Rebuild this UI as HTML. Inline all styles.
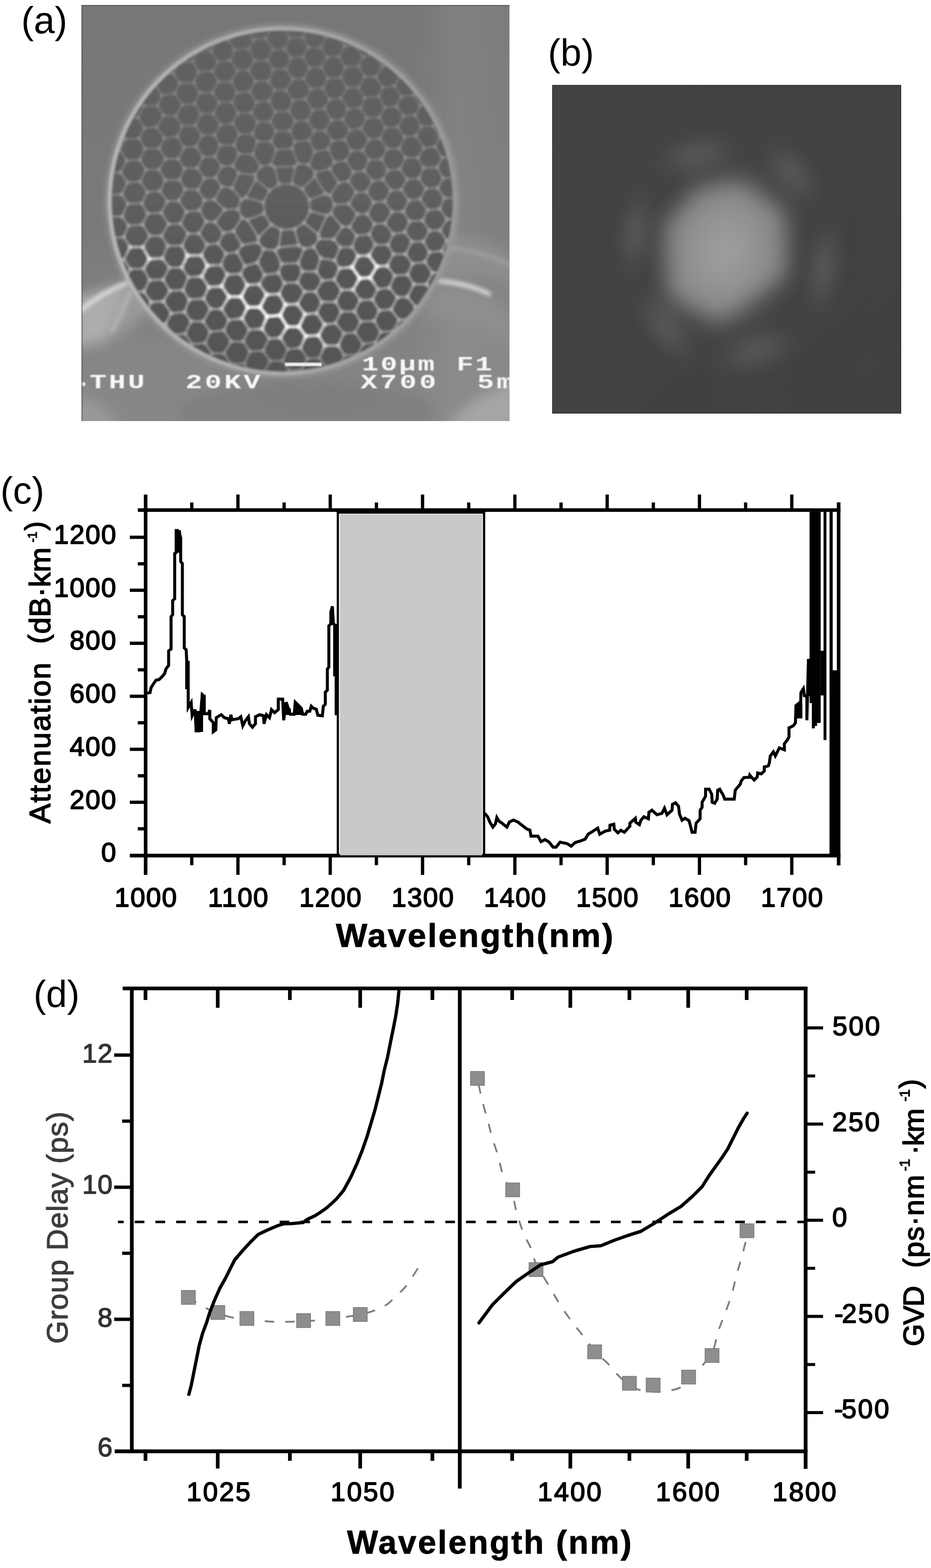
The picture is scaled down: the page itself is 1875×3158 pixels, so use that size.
<!DOCTYPE html>
<html lang="en"><head><meta charset="utf-8"><title>Figure</title>
<style>html,body{margin:0;padding:0;background:#fff}svg{display:block}text{white-space:pre}</style></head><body>
<svg width="1875" height="3158" viewBox="0 0 1875 3158">
<rect width="1875" height="3158" fill="#fff"/>
<g id="panel_a">
<defs>
<clipPath id="aClip"><rect x="164" y="10" width="862.2" height="838"/></clipPath>
<clipPath id="aCirc"><circle cx="568.3" cy="404.8" r="344.6"/></clipPath>
<filter id="aBlur" x="-5%" y="-5%" width="110%" height="110%"><feGaussianBlur stdDeviation="1.9"/></filter>
<filter id="aBlur2" x="-5%" y="-5%" width="110%" height="110%"><feGaussianBlur stdDeviation="1.1"/></filter>
<filter id="aSoft" x="-30%" y="-30%" width="160%" height="160%"><feGaussianBlur stdDeviation="12"/></filter>
<filter id="aSoft2" x="-30%" y="-30%" width="160%" height="160%"><feGaussianBlur stdDeviation="4"/></filter>
<linearGradient id="aBg" x1="0" y1="0" x2="0" y2="1"><stop offset="0" stop-color="#777777"/><stop offset="0.55" stop-color="#7a7a7a"/><stop offset="0.75" stop-color="#828282"/><stop offset="1" stop-color="#868686"/></linearGradient>
<linearGradient id="aBgR" x1="0" y1="0" x2="1" y2="0"><stop offset="0" stop-color="#fff" stop-opacity="0"/><stop offset="0.78" stop-color="#fff" stop-opacity="0"/><stop offset="0.88" stop-color="#fff" stop-opacity="0.07"/><stop offset="1" stop-color="#fff" stop-opacity="0.04"/></linearGradient>
<linearGradient id="aCell" gradientUnits="userSpaceOnUse" x1="0" y1="60" x2="0" y2="750"><stop offset="0" stop-color="#626262"/><stop offset="0.5" stop-color="#5e5e5e"/><stop offset="0.75" stop-color="#565656"/><stop offset="1" stop-color="#545454"/></linearGradient>
<linearGradient id="aWall" gradientUnits="userSpaceOnUse" x1="0" y1="60" x2="0" y2="750"><stop offset="0" stop-color="#717171"/><stop offset="0.3" stop-color="#777777"/><stop offset="0.5" stop-color="#868686"/><stop offset="0.64" stop-color="#969696"/><stop offset="0.8" stop-color="#a6a6a6"/><stop offset="0.92" stop-color="#8e8e8e"/><stop offset="1" stop-color="#787878"/></linearGradient>
<linearGradient id="aDot" gradientUnits="userSpaceOnUse" x1="0" y1="60" x2="0" y2="750"><stop offset="0" stop-color="#7c7c7c"/><stop offset="0.3" stop-color="#848484"/><stop offset="0.5" stop-color="#969696"/><stop offset="0.64" stop-color="#a8a8a8"/><stop offset="0.8" stop-color="#b8b8b8"/><stop offset="0.92" stop-color="#9a9a9a"/><stop offset="1" stop-color="#808080"/></linearGradient>
<radialGradient id="aB1" gradientUnits="userSpaceOnUse" cx="0" cy="0" r="100" gradientTransform="translate(546 630) rotate(26) scale(1.8 0.5)"><stop offset="0" stop-color="#fff" stop-opacity="1.0"/><stop offset="0.45" stop-color="#fff" stop-opacity="0.75"/><stop offset="1" stop-color="#fff" stop-opacity="0"/></radialGradient>
<radialGradient id="aB2" gradientUnits="userSpaceOnUse" cx="0" cy="0" r="62" gradientTransform="translate(732 547) rotate(-25) scale(1.0 0.7)"><stop offset="0" stop-color="#fff" stop-opacity="1.0"/><stop offset="0.45" stop-color="#fff" stop-opacity="0.75"/><stop offset="1" stop-color="#fff" stop-opacity="0"/></radialGradient>
<radialGradient id="aB3" gradientUnits="userSpaceOnUse" cx="0" cy="0" r="45" gradientTransform="translate(393 530) rotate(25) scale(1.3 0.6)"><stop offset="0" stop-color="#fff" stop-opacity="0.75"/><stop offset="0.45" stop-color="#fff" stop-opacity="0.5625"/><stop offset="1" stop-color="#fff" stop-opacity="0"/></radialGradient>
<radialGradient id="aB4" gradientUnits="userSpaceOnUse" cx="0" cy="0" r="40" gradientTransform="translate(292 517) rotate(25) scale(1.3 0.6)"><stop offset="0" stop-color="#fff" stop-opacity="0.6"/><stop offset="0.45" stop-color="#fff" stop-opacity="0.44999999999999996"/><stop offset="1" stop-color="#fff" stop-opacity="0"/></radialGradient>
<linearGradient id="aRim" gradientUnits="userSpaceOnUse" x1="221.7" y1="0" x2="914.9" y2="0"><stop offset="0" stop-color="#b6b6b6"/><stop offset="0.5" stop-color="#aaaaaa"/><stop offset="1" stop-color="#989898"/></linearGradient>
</defs>
<g clip-path="url(#aClip)">
<rect x="164" y="10" width="862.2" height="838" fill="url(#aBg)"/>
<rect x="164" y="10" width="862.2" height="838" fill="url(#aBgR)"/>
<g filter="url(#aSoft)">
<polygon points="268,566 150,600 150,700 215,690" fill="#b8b8b8" fill-opacity="0.8"/>
<polygon points="268,566 330,600 240,680 200,640" fill="#a8a8a8" fill-opacity="0.6"/>
<path d="M150,700 Q330,640 470,760 T760,800 L1040,640 L1040,860 L150,860Z" fill="#8a8a8a" fill-opacity="0.5"/>
<ellipse cx="620" cy="830" rx="260" ry="60" fill="#787878" fill-opacity="0.55"/>
<path d="M1040,770 Q960,790 900,860 L1040,860Z" fill="#a6a6a6"/>
<path d="M150,800 Q200,800 240,860 L150,860Z" fill="#9a9a9a"/>
<path d="M905,470 Q980,480 1040,520 L1040,575 Q960,540 888,560Z" fill="#8f8f8f" fill-opacity="0.9"/>
<path d="M880,575 Q960,575 1040,640 L1040,700 Q960,640 850,640Z" fill="#909090" fill-opacity="0.8"/>
</g>
<g filter="url(#aSoft2)" fill="none" stroke-linecap="round">
<path d="M268,566 Q210,585 158,628" stroke="#e4e4e4" stroke-width="9" stroke-opacity="0.9"/>
<path d="M272,570 Q250,620 226,668" stroke="#c8c8c8" stroke-width="7" stroke-opacity="0.6"/>
<path d="M884,566 Q940,570 985,592" stroke="#ececec" stroke-width="8" stroke-opacity="0.9"/>
<path d="M906,500 Q970,505 1030,535" stroke="#b0b0b0" stroke-width="5" stroke-opacity="0.7"/>
<circle cx="267" cy="566" r="9" fill="#f0f0f0" stroke="none"/>
</g>
<g filter="url(#aBlur)">
<circle cx="568.3" cy="404.8" r="350.6" fill="none" stroke="#a0a0a0" stroke-opacity="0.55" stroke-width="13" filter="url(#aSoft2)"/>
<circle cx="568.3" cy="404.8" r="346.6" fill="url(#aCell)"/>
<g clip-path="url(#aCirc)" fill="none" stroke-linecap="round">
<defs><path id="aW" d="M926.9,524.7L904.8,527.4M904.8,527.4L893.5,547.5M907.7,568.8L893.5,547.5M864.9,508L855.6,527.6M864.9,508L889.6,505.6M855.6,527.6L871,549.5M904.8,527.4L889.6,505.6M871,549.5L893.5,547.5M864.9,508L852.5,486.6M855.6,527.6L830.8,531M816.9,511.9L830.8,531M816.9,511.9L829.3,486.7M852.5,486.6L829.3,486.7M938.5,503.9L924.2,483.6M889.6,505.6L900,484.7M900,484.7L924.2,483.6M486.4,402L479.1,421.2M486.4,402L467.2,378.3M431.7,401.6L446.5,375.9M431.7,401.6L452.1,422.2M479.1,421.2L452.1,422.2M467.2,378.3L446.5,375.9M495.1,397.7L530.4,407.4M495.1,397.7L514.8,361.3M530.4,407.4L542.6,383.5M542.6,383.5L514.8,361.3M481,309.6L469.1,333.8M481,309.6L509.1,310.6M509.1,310.6L525.1,335.3M480.8,348.7L469.1,333.8M480.8,348.7L513.6,352.6M525.1,335.3L513.6,352.6M486.4,402L495.1,397.7M467.2,378.3L480.8,348.7M514.8,361.3L513.6,352.6M588,298.7L556.2,301.7M588,298.7L600.6,329.6M593.7,335.2L600.6,329.6M593.7,335.2L552.7,336.5M556.2,301.7L546,331.9M552.7,336.5L546,331.9M622.3,282.3L593.8,285.8M622.3,282.3L633.8,305.3M593.8,285.8L588,298.7M633.8,305.3L621.4,331.5M621.4,331.5L600.6,329.6M894,592.9L872.7,594.2M894,592.9L907.7,568.8M871,549.5L859.2,572.7M872.7,594.2L859.2,572.7M894,592.9L911.7,613.2M872.7,594.2L861,615.9M875.4,638.2L861,615.9M795.4,711.4L805.6,686.4M805.6,686.4L830.1,684.5M861,615.9L837.2,618.4M837.2,618.4L826.1,641.9M864.4,661L841.2,662.5M826.1,641.9L841.2,662.5M830.1,684.5L841.2,662.5M720.1,760L732.4,735.2M732.4,735.2L758.6,735M795.4,711.4L770.6,712.3M770.6,712.3L758.6,735M781.6,493.1L755.6,492.6M781.6,493.1L792.2,511.7M759,536.7L743,514.7M759,536.7L779.9,535.3M779.9,535.3L792.2,511.7M755.6,492.6L743,514.7M781.6,493.1L792,471.1M816.9,511.9L792.2,511.7M829.3,486.7L815.3,467.5M792,471.1L815.3,467.5M387.5,738L373.4,718.6M373.4,718.6L386.6,692.9M412.9,737.2L426.7,711.7M426.7,711.7L413.3,691M387.5,738L412.9,737.2M413.3,691L386.6,692.9M469.6,779.2L453.1,755.9M427.2,758L453.1,755.9M412.9,737.2L427.2,758M360.1,82.5L388.1,82.6M388.1,82.6L398,63.4M275.8,150.7L288.4,170.2M276.8,193.4L288.4,170.2M249.3,194.2L276.8,193.4M312.1,127.1L325.2,148.4M360.9,124L349.1,147.9M360.9,124L347.9,104M349.1,147.9L325.2,148.4M347.9,104L323.8,103.9M312.4,169.8L288.4,170.2M312.4,169.8L325.2,148.4M293.3,632.5L264.8,635.3M264.7,588.1L250.5,612.8M293.3,632.5L304.4,608.3M264.7,588.1L289.8,587.2M304.4,608.3L289.8,587.2M264.7,588.1L250.6,566.6M250.6,566.6L262.6,541.9M289.2,541.2L262.6,541.9M289.2,541.2L301.4,564.2M301.4,564.2L289.8,587.2M304.4,608.3L329.1,606.9M307,652.5L333.6,652M333.6,652L344.9,631.1M293.3,632.5L307,652.5M344.9,631.1L329.1,606.9M328.6,563.2L342.2,585.5M328.6,563.2L301.4,564.2M329.1,606.9L342.2,585.5M532.1,428.6L531.6,430.1M531.6,430.1L546.2,452.6M547.7,452.8L546.2,452.6M411.7,403.4L401.6,423.6M411.7,403.4L431.7,401.6M401.6,423.6L415.3,446.3M452.1,422.2L433.2,447M415.3,446.3L433.2,447M398.7,382L411.7,403.4M398.7,382L372.4,381.2M372.4,381.2L360,404.2M401.6,423.6L375.2,426.4M375.2,426.4L360,404.2M322.1,384.8L332.6,363M361.7,362.1L332.6,363M372.4,381.2L361.7,362.1M322.1,384.8L336.9,405.7M336.9,405.7L360,404.2M924.2,483.6L933.8,460.9M957.5,458.4L933.8,460.9M701.7,365L711.5,346.6M711.5,346.6L733.6,343.9M717.1,387.6L738.3,386.6M717.1,387.6L701.7,365M738.3,386.6L749.8,364.2M733.6,343.9L749.8,364.2M531.6,430.1L498.6,443M546.2,452.6L520.4,478.1M498.6,443L520.4,478.1M532.1,428.6L531,408.8M531,408.8L530.4,407.4M479.1,421.2L487.4,438.6M498.6,443L487.4,438.6M449.8,469.2L433.2,447M449.8,469.2L470.3,465.3M487.4,438.6L470.3,465.3M583.7,263.2L593.8,285.8M583.7,263.2L555.9,264.1M556.2,301.7L546.4,285.1M555.9,264.1L546.4,285.1M525.1,335.3L546,331.9M509.1,310.6L518.5,285.2M546.4,285.1L518.5,285.2M542.6,383.5L544.1,383.1M686.4,198L699.2,176.4M686.4,198L700.7,219.3M700.7,219.3L726.1,217.5M721.5,176.2L734.8,197.2M721.5,176.2L699.2,176.4M734.8,197.2L726.1,217.5M691.4,54.1L676.9,31.7M691.4,54.1L718,50.4M683.2,73.8L656.7,73.9M683.2,73.8L693.8,92.9M693.8,92.9L682,114.1M646.3,95.4L656.7,73.9M646.3,95.4L659.1,115.7M659.1,115.7L682,114.1M644.3,54.5L655.9,33.7M644.3,54.5L656.7,73.9M691.4,54.1L683.2,73.8M686.7,156L695.6,135.3M695.6,135.3L722.2,133.2M699.2,176.4L686.7,156M721.5,176.2L734.9,154.6M722.2,133.2L734.9,154.6M717.4,92.7L731.5,114M717.4,92.7L729.8,72.4M729.8,72.4L753.5,72.4M754.3,111.3L731.5,114M754.3,111.3L764.5,91.9M764.5,91.9L753.5,72.4M722.2,133.2L731.5,114M693.8,92.9L717.4,92.7M695.6,135.3L682,114.1M718,50.4L729.8,72.4M791.5,91.1L764.5,91.9M424.4,60.5L398,63.4M432.6,40.1L424.4,60.5M632.8,263.1L619,243M622.3,282.3L632.8,263.1M583.7,263.2L594.1,243.9M594.1,243.9L619,243M620.3,56.4L610.6,75.3M644.3,54.5L620.3,56.4M646.3,95.4L620.5,95.1M620.5,95.1L610.6,75.3M820.6,597.7L833.5,572.5M820.6,597.7L800.4,599.1M800.4,599.1L784.3,579.5M784.3,579.5L794.6,554.9M794.6,554.9L821.1,553M821.1,553L833.5,572.5M837.2,618.4L820.6,597.7M859.2,572.7L833.5,572.5M779.9,535.3L794.6,554.9M745.5,559.3L761,582.2M761,582.2L784.3,579.5M759,536.7L745.5,559.3M830.8,531L821.1,553M805.6,686.4L792,667.3M826.1,641.9L803.6,644.6M792,667.3L803.6,644.6M770.6,712.3L755.5,689.8M755.5,689.8L766.6,668.6M792,667.3L766.6,668.6M800.4,599.1L787.8,623.1M803.6,644.6L787.8,623.1M732.4,735.2L720,714.2M755.5,689.8L731.1,692.7M731.1,692.7L720,714.2M725.4,604.4L750.2,603.3M725.4,604.4L713.9,627.3M750.2,603.3L763.7,625.3M726.4,647.7L713.9,627.3M726.4,647.7L753.5,646.3M753.5,646.3L763.7,625.3M787.8,623.1L763.7,625.3M761,582.2L750.2,603.3M687.2,627.4L713.9,627.3M675.6,650.8L687.2,627.4M714.9,669.4L692.7,671.4M675.6,650.8L692.7,671.4M714.9,669.4L726.4,647.7M731.1,692.7L714.9,669.4M766.6,668.6L753.5,646.3M702.6,410.5L719.6,431.2M702.6,410.5L673.7,411.9M673.7,411.9L666.5,430M666.5,430L689.4,456.5M689.4,456.5L704.4,456.8M704.4,456.8L719.6,431.2M789.3,426.4L775.5,450M789.3,426.4L774.8,406M774.8,406L752.2,407.3M752.2,407.3L739.8,431M739.8,431L753.6,451.3M775.5,450L753.6,451.3M824.7,445.6L815.3,467.5M824.7,445.6L812.2,426.1M812.2,426.1L789.3,426.4M792,471.1L775.5,450M823.4,403.7L808.3,382.2M786.9,383.4L808.3,382.2M786.9,383.4L774.8,406M812.2,426.1L823.4,403.7M786.9,383.4L771.3,361.3M771.3,361.3L749.8,364.2M738.3,386.6L752.2,407.3M719.6,431.2L739.8,431M717.1,387.6L702.6,410.5M718,474.5L743.9,471.7M718,474.5L704.4,456.8M743.9,471.7L753.6,451.3M755.6,492.6L743.9,471.7M915.3,357L927.7,335.1M915.3,357L930.1,379.2M948.4,335.1L927.7,335.1M930.1,379.2L952.8,376.9M892.4,358.9L880.3,337M892.4,358.9L915.3,357M914.2,315.7L890.6,317.5M880.3,337L890.6,317.5M914.2,315.7L927.7,335.1M250.6,566.6L224.4,567.2M182.5,504.9L209.4,502.3M223.5,522.7L209.4,502.3M223.5,522.7L211.9,548.6M249.4,522.7L262.6,541.9M249.4,522.7L223.5,522.7M176.1,325.8L203.8,326.9M203.8,326.9L216,347.8M205.1,370.2L216,347.8M205.1,370.2L175.4,370.7M249.4,522.7L262.1,497.4M209.4,502.3L219.5,480.5M262.1,497.4L249.2,477.5M219.5,480.5L249.2,477.5M205.1,370.2L217,392.4M217,392.4L205.9,413.1M178.1,414L205.9,413.1M245.1,391.5L217,392.4M246,435.9L217.9,436M257.4,409.9L246,435.9M245.1,391.5L257.4,409.9M205.9,413.1L217.9,436M246,435.9L259,454.6M249.2,477.5L259,454.6M219.5,480.5L206.5,457.3M217.9,436L206.5,457.3M307,652.5L294.5,679.3M720,714.2L693.4,715.5M692.7,671.4L681.1,696M681.1,696L693.4,715.5M693.4,715.5L681.1,739.3M698.3,761.2L681.1,739.3M437.3,79.3L424.4,60.5M388.1,82.6L398.4,103.5M437.3,79.3L425,102.6M425,102.6L398.4,103.5M360.1,82.5L347.9,104M360.9,124L388.1,123.7M388.1,123.7L398.4,103.5M281.6,322.1L255.3,323M281.6,322.1L294.1,341.6M294.1,341.6L282.7,365.7M255.3,323L242.8,347.3M282.7,365.7L256.5,367.6M256.5,367.6L242.8,347.3M320.3,341.4L332.6,363M320.3,341.4L294.1,341.6M296.6,386.7L322.1,384.8M296.6,386.7L282.7,365.7M257.4,409.9L285.8,409.8M296.6,386.7L285.8,409.8M245.1,391.5L256.5,367.6M216,347.8L242.8,347.3M251.9,280.2L240.6,301.9M251.9,280.2L239.9,259.5M239.9,259.5L212.8,259.6M217,303.6L240.6,301.9M217,303.6L202.7,281.9M203.8,326.9L217,303.6M255.3,323L240.6,301.9M687.2,627.4L676,607.8M675.6,650.8L653.7,653.5M653.7,653.5L637.7,630.5M637.7,630.5L648.1,608.4M676,607.8L648.1,608.4M743,514.7L721.1,515.5M718,474.5L709.2,497.6M721.1,515.5L709.2,497.6M470.3,465.3L487.7,493.3M520.4,478.1L519.7,488.2M487.7,493.3L519.7,488.2M381.3,603.4L371.7,628.4M381.3,603.4L409.9,601.3M423.8,622.1L409.9,601.3M423.8,622.1L409.3,647.5M409.3,647.5L385,646.9M385,646.9L371.7,628.4M368.4,584.4L342.2,585.5M368.4,584.4L381.3,603.4M344.9,631.1L371.7,628.4M379.4,558.3L368.4,584.4M379.4,558.3L406.2,556.9M406.2,556.9L420.6,578.4M420.6,578.4L409.9,601.3M446.2,622.3L461.2,597.7M461.2,597.7L446.4,576.3M446.4,576.3L420.6,578.4M446.2,622.3L423.8,622.1M372.9,672.5L385,646.9M386.6,692.9L372.9,672.5M423.1,668.3L413.3,691M423.1,668.3L409.3,647.5M345.8,674L333.6,652M372.9,672.5L345.8,674M285.8,409.8L297.5,429.9M336.9,405.7L324.8,428.8M324.8,428.8L297.5,429.9M259,454.6L287,452.2M297.5,429.9L287,452.2M734.9,154.6L757.3,154.7M754.3,111.3L769.8,133.2M769.8,133.2L757.3,154.7M956.5,419.1L932.2,419.7M933.8,460.9L919,440.8M919,440.8L932.2,419.7M930.1,379.2L919.4,397.6M919.4,397.6L932.2,419.7M914.2,315.7L923.4,295.1M923.4,295.1L945.8,292M700.7,219.3L690.4,240.7M664.1,199.7L686.4,198M664.1,199.7L653.7,218.5M653.7,218.5L667.3,241.7M690.4,240.7L667.3,241.7M629.7,221.7L619,243M653.7,218.5L629.7,221.7M632.8,263.1L654.6,263.2M667.3,241.7L654.6,263.2M633.8,305.3L660.7,300.6M660.7,300.6L668.7,283.6M654.6,263.2L668.7,283.6M875.8,295.4L885.9,276.3M875.8,295.4L853.4,298.3M853.4,298.3L837.9,273M885.9,276.3L871.9,254.1M871.9,254.1L848.8,254.3M848.8,254.3L837.9,273M909,273.8L923.4,295.1M909,273.8L885.9,276.3M890.6,317.5L875.8,295.4M853,338L841.5,317.8M841.5,317.8L853.4,298.3M880.3,337L853,338M846.5,212.7L836.4,232M846.5,212.7L871.1,210.5M836.4,232L848.8,254.3M871.1,210.5L884.6,233.6M884.6,233.6L871.9,254.1M814.8,276.1L837.9,273M800.7,256.1L814.8,276.1M836.4,232L812.5,233.3M812.5,233.3L800.7,256.1M664.2,340.1L682.2,367.7M664.2,340.1L634.8,346.6M634.8,346.6L634,355.1M634,355.1L655.1,390.1M682.2,367.7L664.6,393.6M664.6,393.6L655.1,390.1M696.3,323.4L673.6,326.3M673.6,326.3L664.2,340.1M701.7,365L682.2,367.7M711.5,346.6L696.3,323.4M621.4,331.5L634.8,346.6M660.7,300.6L673.6,326.3M673.7,411.9L664.6,393.6M552.7,336.5L561.7,371.1M544.1,383.1L560.8,372.3M561.7,371.1L560.8,372.3M593.7,335.2L588.5,369.7M561.7,371.1L588.5,369.7M625.8,179.1L611.6,157.8M625.8,179.1L649.8,177.9M649.8,177.9L660.1,157.8M660.1,157.8L647.1,135.1M611.6,157.8L623.6,136.4M623.6,136.4L647.1,135.1M664.1,199.7L649.8,177.9M615.4,199.7L629.7,221.7M615.4,199.7L625.8,179.1M686.7,156L660.1,157.8M659.1,115.7L647.1,135.1M610.3,115.1L620.5,95.1M610.3,115.1L623.6,136.4M494.3,16.1L507.6,37.7M461,36.5L473.6,59M507.6,37.7L497,58.6M497,58.6L473.6,59M534.9,35.6L542.7,16.7M534.9,35.6L507.6,37.7M460.5,80.1L473.6,59M437.3,79.3L460.5,80.1M511.1,79.7L497,58.6M511.1,79.7L535,77.2M534.9,35.6L546.7,56.8M535,77.2L546.7,56.8M570.2,14.2L583.1,36.5M617.6,14L607.1,35.1M607.1,35.1L583.1,36.5M571,56.5L546.7,56.8M571,56.5L583.1,36.5M620.3,56.4L607.1,35.1M571,56.5L583.4,76.2M610.6,75.3L583.4,76.2M460.5,80.1L472.4,100.3M511.1,79.7L501.5,98.3M501.5,98.3L472.4,100.3M425,102.6L438.5,124.4M438.5,124.4L463.3,121.8M472.4,100.3L463.3,121.8M206.5,457.3L180.6,458.2M307.9,698.4L334,698.3M347.8,718.1L334,698.3M345.8,674L334,698.3M373.4,718.6L347.8,718.1M619.2,722.1L643.3,720.4M619.2,722.1L605.1,700.6M643.3,720.4L654.2,695.9M605.1,700.6L615.9,676.9M615.9,676.9L641.4,675.6M641.4,675.6L654.2,695.9M681.1,739.3L659.2,741.4M659.2,741.4L643.3,720.4M681.1,696L654.2,695.9M637.7,630.5L614.1,632.8M614.1,632.8L601.8,658.1M653.7,653.5L641.4,675.6M601.8,658.1L615.9,676.9M659.2,741.4L647.3,763.6M607.4,744.4L621.6,765.7M607.4,744.4L619.2,722.1M647.3,763.6L621.6,765.7M361.7,362.1L371.3,339.3M320.3,341.4L333.6,320M371.3,339.3L358.8,319.8M333.6,320L358.8,319.8M370.4,297L356.9,275M356.9,275L366.4,253.5M395.2,295.2L370.4,297M395.2,295.2L407.1,272.7M407.1,272.7L393.5,252.6M393.5,252.6L366.4,253.5M281.6,322.1L291.7,299.6M251.9,280.2L280.7,278.7M291.7,299.6L280.7,278.7M333.6,320L321.1,298.8M291.7,299.6L321.1,298.8M358.8,319.8L370.4,297M356.9,275L330.8,278.2M321.1,298.8L330.8,278.2M362,167.6L349.1,147.9M362,167.6L352.1,188.1M312.4,169.8L326.1,191.9M326.1,191.9L352.1,188.1M393.5,252.6L404.7,229.7M391.6,208.6L404.7,229.7M366.4,253.5L354.2,233.8M391.6,208.6L367,211.2M367,211.2L354.2,233.8M251.9,236.6L239.9,259.5M238.6,215.9L251.9,236.6M672.9,563L687.6,584.2M672.9,563L683.8,540.2M709.1,538L683.8,540.2M709.1,538L724.6,560.4M724.6,560.4L711,583.5M711,583.5L687.6,584.2M721.1,515.5L709.1,538M745.5,559.3L724.6,560.4M725.4,604.4L711,583.5M676,607.8L687.6,584.2M683.8,540.2L674.1,524.6M709.2,497.6L685.1,498.1M674.1,524.6L685.1,498.1M689.4,456.5L672.4,482.3M672.4,482.3L685.1,498.1M497.8,573.9L485.5,597.7M497.8,573.9L484.4,551.7M446.4,576.3L457.6,552.6M485.5,597.7L461.2,597.7M457.6,552.6L484.4,551.7M599.1,612.3L613.1,587.4M614.1,632.8L599.1,612.3M648.1,608.4L635.5,587.4M613.1,587.4L635.5,587.4M672.9,563L649,565M635.5,587.4L649,565M674.1,524.6L646,519.8M646,519.8L636.7,547M636.7,547L649,565M613.1,587.4L599.1,568.7M562.1,592.2L574.9,613.4M599.1,612.3L574.9,613.4M562.1,592.2L572.6,569.9M572.6,569.9L599.1,568.7M636.7,547L608.9,546.6M599.1,568.7L608.9,546.6M624.6,425.2L612.4,449.1M624.6,425.2L624,423.8M610.9,449.5L612.4,449.1M658,434.4L624.6,425.2M658,434.4L641,472M612.4,449.1L641,472M600.6,529.7L608.9,546.6M600.6,529.7L612.4,500.9M646,519.8L631.7,497.2M612.4,500.9L631.7,497.2M672.4,482.3L642.6,480.4M631.7,497.2L642.6,480.4M658,434.4L666.5,430M641,472L642.6,480.4M532.7,553.5L560.7,549.8M532.7,553.5L518.5,528.7M518.5,528.7L531,501.8M560.7,549.8L567,531.4M567,531.4L554.4,504.3M531,501.8L554.4,504.3M522.1,572.5L536.9,593.3M522.1,572.5L532.7,553.5M536.9,593.3L562.1,592.2M572.6,569.9L560.7,549.8M484.4,551.7L492.7,535.7M492.7,535.7L518.5,528.7M522.1,572.5L497.8,573.9M477.5,507.7L492.7,535.7M519.7,488.2L531,501.8M487.7,493.3L477.5,507.7M600.6,529.7L567,531.4M262.1,497.4L287.7,497.5M287,452.2L301.4,474.8M301.4,474.8L287.7,497.5M289.2,541.2L300.7,521.5M300.7,521.5L287.7,497.5M762.5,194.1L770.7,175.8M762.5,194.1L774.9,215.9M770.7,175.8L794.5,172.7M794.5,172.7L808.6,194.3M774.9,215.9L798.5,214.4M808.6,194.3L798.5,214.4M734.8,197.2L762.5,194.1M757.3,154.7L770.7,175.8M738.6,237.1L764,236.7M764,236.7L774.9,215.9M726.1,217.5L738.6,237.1M764,236.7L776,256.9M776,256.9L800.7,256.1M812.5,233.3L798.5,214.4M833.8,191.5L846.5,212.7M833.8,191.5L808.6,194.3M871.1,210.5L881.4,193.2M833.8,191.5L841.3,172.6M841.3,172.6L868.7,169M909,273.8L920.8,251.7M884.6,233.6L907.6,233.4M919,440.8L900.2,441.5M900,484.7L886.3,464M900.2,441.5L886.3,464M852.5,486.6L865.1,464.6M824.7,445.6L851.1,444M851.1,444L865.1,464.6M865.1,464.6L886.3,464M694.1,281.6L704.3,261.7M694.1,281.6L707.3,303.6M743.1,281.1L730.7,303M743.1,281.1L726.9,259M726.9,259L704.3,261.7M707.3,303.6L730.7,303M690.4,240.7L704.3,261.7M668.7,283.6L694.1,281.6M696.3,323.4L707.3,303.6M765.5,279.2L743.1,281.1M776,256.9L765.5,279.2M738.6,237.1L726.9,259M733.6,343.9L743.2,322M743.2,322L730.7,303M471.1,292.4L481,309.6M471.1,292.4L481.7,270M518.5,285.2L508.4,269.6M481.7,270L508.4,269.6M555.9,264.1L544.1,244.6M508.4,269.6L518.8,245.8M544.1,244.6L518.8,245.8M588.5,369.7L589.5,370.8M440.1,164.4L428.1,143.1M440.1,164.4L428,186.6M428.1,143.1L399.9,144.9M428,186.6L402.2,186.8M402.2,186.8L390.2,166.3M390.2,166.3L399.9,144.9M465.8,164.5L477.9,142.1M465.8,164.5L440.1,164.4M438.5,124.4L428.1,143.1M477.9,142.1L463.3,121.8M388.1,123.7L399.9,144.9M352.1,188.1L367,211.2M391.6,208.6L402.2,186.8M362,167.6L390.2,166.3M501.5,98.3L512.9,122.1M477.9,142.1L500.9,141.4M512.9,122.1L500.9,141.4M549.6,100.1L573.3,98.8M549.6,100.1L538.3,121.4M538.3,121.4L550.2,140.2M550.2,140.2L576.1,138.5M576.1,138.5L585.9,116.2M585.9,116.2L573.3,98.8M583.4,76.2L573.3,98.8M535,77.2L549.6,100.1M512.9,122.1L538.3,121.4M610.3,115.1L585.9,116.2M589.7,159.1L576.1,138.5M611.6,157.8L589.7,159.1M768.7,320.6L779.8,299.8M768.7,320.6L780.8,343M780.8,343L805.7,340.2M805.7,340.2L816.9,317.4M779.8,299.8L804,299M804,299L816.9,317.4M765.5,279.2L779.8,299.8M743.2,322L768.7,320.6M771.3,361.3L780.8,343M808.3,382.2L819.7,361.3M819.7,361.3L805.7,340.2M819.7,361.3L843.9,359.2M843.9,359.2L853,338M841.5,317.8L816.9,317.4M814.8,276.1L804,299M446.2,622.3L460.8,644.6M423.1,668.3L451.1,665.3M451.1,665.3L460.8,644.6M582,745.7L568.6,726.5M607.4,744.4L582,745.7M605.1,700.6L579.7,703.3M579.7,703.3L568.6,726.5M426.7,711.7L451.1,711.8M453.1,755.9L464.4,732.4M464.4,732.4L451.1,711.8M451.1,665.3L465.3,687.8M451.1,711.8L465.3,687.8M408.9,316.1L433,315.1M408.9,316.1L397.3,338.3M397.3,338.3L411.1,358.8M446.5,334.9L434.6,357.6M446.5,334.9L433,315.1M411.1,358.8L434.6,357.6M395.2,295.2L408.9,316.1M443.6,292.2L433,315.1M443.6,292.2L431.8,271.9M431.8,271.9L407.1,272.7M371.3,339.3L397.3,338.3M398.7,382L411.1,358.8M469.1,333.8L446.5,334.9M446.5,375.9L434.6,357.6M471.1,292.4L443.6,292.2M429.6,228.9L441.4,206.2M429.6,228.9L443.7,251.2M479.4,228.2L468.4,248.9M479.4,228.2L467.2,205.6M467.2,205.6L441.4,206.2M443.7,251.2L468.4,248.9M404.7,229.7L429.6,228.9M428,186.6L441.4,206.2M431.8,271.9L443.7,251.2M518.8,245.8L506,227.3M506,227.3L479.4,228.2M481.7,270L468.4,248.9M477.4,186.6L467.2,205.6M477.4,186.6L465.8,164.5M277.6,236.8L290.7,258.1M277.6,236.8L289.4,213.5M290.7,258.1L315.5,255.9M315.5,255.9L329.2,232.5M289.4,213.5L317,212.6M317,212.6L329.2,232.5M251.9,236.6L277.6,236.8M280.7,278.7L290.7,258.1M276.8,193.4L289.4,213.5M330.8,278.2L315.5,255.9M354.2,233.8L329.2,232.5M326.1,191.9L317,212.6M454.7,510.8L445,533.7M454.7,510.8L439.4,490.1M445,533.7L417.7,534.9M439.4,490.1L416.7,492.2M416.7,492.2L405.7,514.1M417.7,534.9L405.7,514.1M477.5,507.7L454.7,510.8M457.6,552.6L445,533.7M449.8,469.2L439.4,490.1M406.2,556.9L417.7,534.9M415.3,446.3L400.6,470.1M400.6,470.1L416.7,492.2M612.4,500.9L601.7,493.9M554.4,504.3L561.2,498.1M561.2,498.1L601.7,493.9M324.8,428.8L339.5,451.3M301.4,474.8L325.3,475M325.3,475L339.5,451.3M375.2,426.4L363.6,450.3M339.5,451.3L363.6,450.3M400.6,470.1L378.4,470.9M363.6,450.3L378.4,470.9M805.3,153.9L791.2,131.3M805.3,153.9L828.3,152.9M828.3,152.9L839.4,131.3M826.4,110.9L802.8,110.9M802.8,110.9L791.2,131.3M794.5,172.7L805.3,153.9M769.8,133.2L791.2,131.3M841.3,172.6L828.3,152.9M791.5,91.1L802.8,110.9M861.3,423L885.4,420.4M861.3,423L846.4,400.9M885.4,420.4L894.8,399.1M894.8,399.1L881.4,378.4M881.4,378.4L857.7,379.8M846.4,400.9L857.7,379.8M900.2,441.5L885.4,420.4M851.1,444L861.3,423M823.4,403.7L846.4,400.9M919.4,397.6L894.8,399.1M892.4,358.9L881.4,378.4M843.9,359.2L857.7,379.8M594.1,243.9L581.3,223.5M544.1,244.6L554.5,225.4M554.5,225.4L581.3,223.5M615.4,199.7L590.1,202.4M581.3,223.5L590.1,202.4M589.7,159.1L576.1,181.2M590.1,202.4L576.1,181.2M622.9,404L623.4,402.5M623.4,402.5L608.8,380M608.8,380L607.3,379.8M589.5,370.8L607.3,379.8M624,423.8L622.9,404M655.1,390.1L623.4,402.5M634,355.1L608.8,380M465.3,687.8L489.9,687.6M489.9,687.6L501.7,664.3M460.8,644.6L487.4,641.4M501.7,664.3L487.4,641.4M536.9,593.3L523.4,618.7M485.5,597.7L498.8,618.9M523.4,618.7L498.8,618.9M498.8,618.9L487.4,641.4M504.4,752L531.3,750.7M504.4,752L492.3,732M492.3,732L503.3,707.8M531.3,750.7L543.9,726.9M503.3,707.8L529.9,706.3M543.9,726.9L529.9,706.3M493.2,776.4L504.4,752M531.4,796.8L546,772.9M546,772.9L531.3,750.7M464.4,732.4L492.3,732M489.9,687.6L503.3,707.8M568.6,726.5L543.9,726.9M582,745.7L570.1,772.3M546,772.9L570.1,772.3M570.1,772.3L583.9,791.1M621.6,765.7L610,790.3M594.2,460.3L593.3,461.5M593.3,461.5L566.5,462.9M565.5,461.8L566.5,462.9M610.9,449.5L594.2,460.3M601.7,493.9L593.3,461.5M561.2,498.1L566.5,462.9M547.7,452.8L565.5,461.8M337.8,495L366.7,494.7M337.8,495L327.1,520M366,538.8L341.2,539M366,538.8L377.6,514.7M377.6,514.7L366.7,494.7M341.2,539L327.1,520M325.3,475L337.8,495M378.4,470.9L366.7,494.7M300.7,521.5L327.1,520M379.4,558.3L366,538.8M328.6,563.2L341.2,539M405.7,514.1L377.6,514.7M540.5,163.6L514,163.5M540.5,163.6L552.7,181.6M552.7,181.6L541.7,203M541.7,203L516.5,205.6M516.5,205.6L502.9,184.4M502.9,184.4L514,163.5M500.9,141.4L514,163.5M550.2,140.2L540.5,163.6M576.1,181.2L552.7,181.6M554.5,225.4L541.7,203M506,227.3L516.5,205.6M477.4,186.6L502.9,184.4M527.7,662.5L537.9,637.4M527.7,662.5L541.8,682M564.5,680.4L541.8,682M564.5,680.4L578.3,658M578.3,658L564.2,635.2M564.2,635.2L537.9,637.4M501.7,664.3L527.7,662.5M523.4,618.7L537.9,637.4M529.9,706.3L541.8,682M579.7,703.3L564.5,680.4M601.8,658.1L578.3,658M574.9,613.4L564.2,635.2M647.3,763.6L661,785.9"/><path id="aD" d="M864.9,508h0.01M855.6,527.6h0.01M889.6,505.6h0.01M871,549.5h0.01M852.5,486.6h0.01M830.8,531h0.01M816.9,511.9h0.01M829.3,486.7h0.01M900,484.7h0.01M486.4,402h0.01M479.1,421.2h0.01M467.2,378.3h0.01M431.7,401.6h0.01M446.5,375.9h0.01M452.1,422.2h0.01M495.1,397.7h0.01M530.4,407.4h0.01M514.8,361.3h0.01M542.6,383.5h0.01M481,309.6h0.01M469.1,333.8h0.01M509.1,310.6h0.01M525.1,335.3h0.01M480.8,348.7h0.01M513.6,352.6h0.01M588,298.7h0.01M556.2,301.7h0.01M600.6,329.6h0.01M593.7,335.2h0.01M552.7,336.5h0.01M546,331.9h0.01M622.3,282.3h0.01M593.8,285.8h0.01M633.8,305.3h0.01M621.4,331.5h0.01M859.2,572.7h0.01M837.2,618.4h0.01M826.1,641.9h0.01M781.6,493.1h0.01M755.6,492.6h0.01M792.2,511.7h0.01M759,536.7h0.01M743,514.7h0.01M779.9,535.3h0.01M792,471.1h0.01M815.3,467.5h0.01M386.6,692.9h0.01M426.7,711.7h0.01M413.3,691h0.01M360.9,124h0.01M349.1,147.9h0.01M312.4,169.8h0.01M304.4,608.3h0.01M289.8,587.2h0.01M262.6,541.9h0.01M289.2,541.2h0.01M301.4,564.2h0.01M329.1,606.9h0.01M333.6,652h0.01M344.9,631.1h0.01M328.6,563.2h0.01M342.2,585.5h0.01M531.6,430.1h0.01M546.2,452.6h0.01M411.7,403.4h0.01M401.6,423.6h0.01M415.3,446.3h0.01M433.2,447h0.01M398.7,382h0.01M372.4,381.2h0.01M360,404.2h0.01M375.2,426.4h0.01M322.1,384.8h0.01M332.6,363h0.01M361.7,362.1h0.01M336.9,405.7h0.01M701.7,365h0.01M711.5,346.6h0.01M733.6,343.9h0.01M717.1,387.6h0.01M738.3,386.6h0.01M749.8,364.2h0.01M498.6,443h0.01M520.4,478.1h0.01M487.4,438.6h0.01M449.8,469.2h0.01M470.3,465.3h0.01M583.7,263.2h0.01M555.9,264.1h0.01M546.4,285.1h0.01M518.5,285.2h0.01M686.4,198h0.01M699.2,176.4h0.01M700.7,219.3h0.01M726.1,217.5h0.01M721.5,176.2h0.01M734.8,197.2h0.01M683.2,73.8h0.01M656.7,73.9h0.01M693.8,92.9h0.01M682,114.1h0.01M646.3,95.4h0.01M659.1,115.7h0.01M686.7,156h0.01M695.6,135.3h0.01M722.2,133.2h0.01M734.9,154.6h0.01M717.4,92.7h0.01M731.5,114h0.01M754.3,111.3h0.01M632.8,263.1h0.01M619,243h0.01M594.1,243.9h0.01M610.6,75.3h0.01M620.5,95.1h0.01M820.6,597.7h0.01M833.5,572.5h0.01M800.4,599.1h0.01M784.3,579.5h0.01M794.6,554.9h0.01M821.1,553h0.01M745.5,559.3h0.01M761,582.2h0.01M792,667.3h0.01M803.6,644.6h0.01M755.5,689.8h0.01M766.6,668.6h0.01M787.8,623.1h0.01M720,714.2h0.01M731.1,692.7h0.01M725.4,604.4h0.01M750.2,603.3h0.01M713.9,627.3h0.01M763.7,625.3h0.01M726.4,647.7h0.01M753.5,646.3h0.01M687.2,627.4h0.01M675.6,650.8h0.01M714.9,669.4h0.01M692.7,671.4h0.01M702.6,410.5h0.01M719.6,431.2h0.01M673.7,411.9h0.01M666.5,430h0.01M689.4,456.5h0.01M704.4,456.8h0.01M789.3,426.4h0.01M775.5,450h0.01M774.8,406h0.01M752.2,407.3h0.01M739.8,431h0.01M753.6,451.3h0.01M824.7,445.6h0.01M812.2,426.1h0.01M823.4,403.7h0.01M808.3,382.2h0.01M786.9,383.4h0.01M771.3,361.3h0.01M718,474.5h0.01M743.9,471.7h0.01M915.3,357h0.01M892.4,358.9h0.01M880.3,337h0.01M890.6,317.5h0.01M249.4,522.7h0.01M262.1,497.4h0.01M249.2,477.5h0.01M217,392.4h0.01M245.1,391.5h0.01M246,435.9h0.01M257.4,409.9h0.01M259,454.6h0.01M693.4,715.5h0.01M681.1,696h0.01M437.3,79.3h0.01M398.4,103.5h0.01M425,102.6h0.01M388.1,123.7h0.01M281.6,322.1h0.01M255.3,323h0.01M294.1,341.6h0.01M282.7,365.7h0.01M242.8,347.3h0.01M256.5,367.6h0.01M320.3,341.4h0.01M296.6,386.7h0.01M285.8,409.8h0.01M251.9,280.2h0.01M240.6,301.9h0.01M676,607.8h0.01M653.7,653.5h0.01M637.7,630.5h0.01M648.1,608.4h0.01M721.1,515.5h0.01M709.2,497.6h0.01M487.7,493.3h0.01M519.7,488.2h0.01M381.3,603.4h0.01M371.7,628.4h0.01M409.9,601.3h0.01M423.8,622.1h0.01M409.3,647.5h0.01M385,646.9h0.01M368.4,584.4h0.01M379.4,558.3h0.01M406.2,556.9h0.01M420.6,578.4h0.01M446.2,622.3h0.01M461.2,597.7h0.01M446.4,576.3h0.01M372.9,672.5h0.01M423.1,668.3h0.01M345.8,674h0.01M297.5,429.9h0.01M324.8,428.8h0.01M287,452.2h0.01M757.3,154.7h0.01M769.8,133.2h0.01M919.4,397.6h0.01M690.4,240.7h0.01M664.1,199.7h0.01M653.7,218.5h0.01M667.3,241.7h0.01M629.7,221.7h0.01M654.6,263.2h0.01M660.7,300.6h0.01M668.7,283.6h0.01M875.8,295.4h0.01M885.9,276.3h0.01M853.4,298.3h0.01M837.9,273h0.01M871.9,254.1h0.01M848.8,254.3h0.01M853,338h0.01M841.5,317.8h0.01M846.5,212.7h0.01M836.4,232h0.01M814.8,276.1h0.01M800.7,256.1h0.01M812.5,233.3h0.01M664.2,340.1h0.01M682.2,367.7h0.01M634.8,346.6h0.01M634,355.1h0.01M655.1,390.1h0.01M664.6,393.6h0.01M696.3,323.4h0.01M673.6,326.3h0.01M561.7,371.1h0.01M588.5,369.7h0.01M625.8,179.1h0.01M611.6,157.8h0.01M649.8,177.9h0.01M660.1,157.8h0.01M647.1,135.1h0.01M623.6,136.4h0.01M615.4,199.7h0.01M610.3,115.1h0.01M460.5,80.1h0.01M511.1,79.7h0.01M535,77.2h0.01M546.7,56.8h0.01M571,56.5h0.01M583.4,76.2h0.01M472.4,100.3h0.01M501.5,98.3h0.01M438.5,124.4h0.01M463.3,121.8h0.01M619.2,722.1h0.01M643.3,720.4h0.01M605.1,700.6h0.01M654.2,695.9h0.01M615.9,676.9h0.01M641.4,675.6h0.01M659.2,741.4h0.01M614.1,632.8h0.01M601.8,658.1h0.01M607.4,744.4h0.01M371.3,339.3h0.01M333.6,320h0.01M358.8,319.8h0.01M370.4,297h0.01M356.9,275h0.01M366.4,253.5h0.01M395.2,295.2h0.01M407.1,272.7h0.01M393.5,252.6h0.01M291.7,299.6h0.01M280.7,278.7h0.01M321.1,298.8h0.01M330.8,278.2h0.01M362,167.6h0.01M352.1,188.1h0.01M326.1,191.9h0.01M404.7,229.7h0.01M391.6,208.6h0.01M354.2,233.8h0.01M367,211.2h0.01M672.9,563h0.01M687.6,584.2h0.01M683.8,540.2h0.01M709.1,538h0.01M724.6,560.4h0.01M711,583.5h0.01M674.1,524.6h0.01M685.1,498.1h0.01M672.4,482.3h0.01M497.8,573.9h0.01M485.5,597.7h0.01M484.4,551.7h0.01M457.6,552.6h0.01M599.1,612.3h0.01M613.1,587.4h0.01M635.5,587.4h0.01M649,565h0.01M646,519.8h0.01M636.7,547h0.01M599.1,568.7h0.01M562.1,592.2h0.01M574.9,613.4h0.01M572.6,569.9h0.01M608.9,546.6h0.01M624.6,425.2h0.01M612.4,449.1h0.01M658,434.4h0.01M641,472h0.01M600.6,529.7h0.01M612.4,500.9h0.01M631.7,497.2h0.01M642.6,480.4h0.01M532.7,553.5h0.01M560.7,549.8h0.01M518.5,528.7h0.01M531,501.8h0.01M567,531.4h0.01M554.4,504.3h0.01M522.1,572.5h0.01M536.9,593.3h0.01M492.7,535.7h0.01M477.5,507.7h0.01M287.7,497.5h0.01M301.4,474.8h0.01M300.7,521.5h0.01M762.5,194.1h0.01M770.7,175.8h0.01M774.9,215.9h0.01M794.5,172.7h0.01M808.6,194.3h0.01M798.5,214.4h0.01M738.6,237.1h0.01M764,236.7h0.01M776,256.9h0.01M833.8,191.5h0.01M900.2,441.5h0.01M886.3,464h0.01M865.1,464.6h0.01M851.1,444h0.01M694.1,281.6h0.01M704.3,261.7h0.01M707.3,303.6h0.01M743.1,281.1h0.01M730.7,303h0.01M726.9,259h0.01M765.5,279.2h0.01M743.2,322h0.01M471.1,292.4h0.01M481.7,270h0.01M508.4,269.6h0.01M544.1,244.6h0.01M518.8,245.8h0.01M440.1,164.4h0.01M428.1,143.1h0.01M428,186.6h0.01M399.9,144.9h0.01M402.2,186.8h0.01M390.2,166.3h0.01M465.8,164.5h0.01M477.9,142.1h0.01M512.9,122.1h0.01M500.9,141.4h0.01M549.6,100.1h0.01M573.3,98.8h0.01M538.3,121.4h0.01M550.2,140.2h0.01M576.1,138.5h0.01M585.9,116.2h0.01M589.7,159.1h0.01M768.7,320.6h0.01M779.8,299.8h0.01M780.8,343h0.01M805.7,340.2h0.01M816.9,317.4h0.01M804,299h0.01M819.7,361.3h0.01M843.9,359.2h0.01M460.8,644.6h0.01M451.1,665.3h0.01M582,745.7h0.01M568.6,726.5h0.01M579.7,703.3h0.01M451.1,711.8h0.01M464.4,732.4h0.01M465.3,687.8h0.01M408.9,316.1h0.01M433,315.1h0.01M397.3,338.3h0.01M411.1,358.8h0.01M446.5,334.9h0.01M434.6,357.6h0.01M443.6,292.2h0.01M431.8,271.9h0.01M429.6,228.9h0.01M441.4,206.2h0.01M443.7,251.2h0.01M479.4,228.2h0.01M468.4,248.9h0.01M467.2,205.6h0.01M506,227.3h0.01M477.4,186.6h0.01M277.6,236.8h0.01M290.7,258.1h0.01M289.4,213.5h0.01M315.5,255.9h0.01M329.2,232.5h0.01M317,212.6h0.01M454.7,510.8h0.01M445,533.7h0.01M439.4,490.1h0.01M417.7,534.9h0.01M416.7,492.2h0.01M405.7,514.1h0.01M400.6,470.1h0.01M601.7,493.9h0.01M561.2,498.1h0.01M339.5,451.3h0.01M325.3,475h0.01M363.6,450.3h0.01M378.4,470.9h0.01M805.3,153.9h0.01M861.3,423h0.01M885.4,420.4h0.01M846.4,400.9h0.01M894.8,399.1h0.01M881.4,378.4h0.01M857.7,379.8h0.01M581.3,223.5h0.01M554.5,225.4h0.01M590.1,202.4h0.01M576.1,181.2h0.01M623.4,402.5h0.01M608.8,380h0.01M489.9,687.6h0.01M501.7,664.3h0.01M487.4,641.4h0.01M523.4,618.7h0.01M498.8,618.9h0.01M531.3,750.7h0.01M492.3,732h0.01M503.3,707.8h0.01M543.9,726.9h0.01M529.9,706.3h0.01M593.3,461.5h0.01M566.5,462.9h0.01M337.8,495h0.01M366.7,494.7h0.01M327.1,520h0.01M366,538.8h0.01M341.2,539h0.01M377.6,514.7h0.01M540.5,163.6h0.01M514,163.5h0.01M552.7,181.6h0.01M541.7,203h0.01M516.5,205.6h0.01M502.9,184.4h0.01M527.7,662.5h0.01M537.9,637.4h0.01M541.8,682h0.01M564.5,680.4h0.01M578.3,658h0.01M564.2,635.2h0.01"/></defs>
<use href="#aW" stroke="url(#aWall)" stroke-width="3.8"/>
<use href="#aD" stroke="url(#aDot)" stroke-width="8.5"/>
<use href="#aW" stroke="url(#aB1)" stroke-width="5.2"/>
<use href="#aD" stroke="url(#aB1)" stroke-width="9.5"/>
<use href="#aW" stroke="url(#aB2)" stroke-width="5.2"/>
<use href="#aD" stroke="url(#aB2)" stroke-width="9.5"/>
<use href="#aW" stroke="url(#aB3)" stroke-width="5.2"/>
<use href="#aD" stroke="url(#aB3)" stroke-width="9.5"/>
<use href="#aW" stroke="url(#aB4)" stroke-width="5.2"/>
<use href="#aD" stroke="url(#aB4)" stroke-width="9.5"/>
</g>
<circle cx="568.3" cy="404.8" r="347.6" fill="none" stroke="url(#aRim)" stroke-width="8"/>
</g>
<g filter="url(#aBlur2)">
<rect x="574" y="730.4" width="74" height="7" fill="#f0f0f0"/>
<text transform="translate(197.5 781.5) scale(1.38 1)" text-anchor="middle" style="font-family:'Liberation Mono',monospace;font-weight:bold;font-size:41px;fill:#f8f8f8">T</text><text transform="translate(236 781.5) scale(1.38 1)" text-anchor="middle" style="font-family:'Liberation Mono',monospace;font-weight:bold;font-size:41px;fill:#f8f8f8">H</text><text transform="translate(274.5 781.5) scale(1.38 1)" text-anchor="middle" style="font-family:'Liberation Mono',monospace;font-weight:bold;font-size:41px;fill:#f8f8f8">U</text>
<text transform="translate(390.5 781.5) scale(1.38 1)" text-anchor="middle" style="font-family:'Liberation Mono',monospace;font-weight:bold;font-size:41px;fill:#f8f8f8">2</text><text transform="translate(429.5 781.5) scale(1.38 1)" text-anchor="middle" style="font-family:'Liberation Mono',monospace;font-weight:bold;font-size:41px;fill:#f8f8f8">0</text><text transform="translate(468.5 781.5) scale(1.38 1)" text-anchor="middle" style="font-family:'Liberation Mono',monospace;font-weight:bold;font-size:41px;fill:#f8f8f8">K</text><text transform="translate(507.5 781.5) scale(1.38 1)" text-anchor="middle" style="font-family:'Liberation Mono',monospace;font-weight:bold;font-size:41px;fill:#f8f8f8">V</text>
<text transform="translate(745.5 745.5) scale(1.38 1)" text-anchor="middle" style="font-family:'Liberation Mono',monospace;font-weight:bold;font-size:41px;fill:#f8f8f8">1</text><text transform="translate(783.1 745.5) scale(1.38 1)" text-anchor="middle" style="font-family:'Liberation Mono',monospace;font-weight:bold;font-size:41px;fill:#f8f8f8">0</text><text transform="translate(820.7 745.5) scale(1.38 1)" text-anchor="middle" style="font-family:'Liberation Mono',monospace;font-weight:bold;font-size:41px;fill:#f8f8f8">µ</text><text transform="translate(858.3 745.5) scale(1.38 1)" text-anchor="middle" style="font-family:'Liberation Mono',monospace;font-weight:bold;font-size:41px;fill:#f8f8f8">m</text>
<text transform="translate(936.5 745.5) scale(1.38 1)" text-anchor="middle" style="font-family:'Liberation Mono',monospace;font-weight:bold;font-size:41px;fill:#f8f8f8">F</text><text transform="translate(974 745.5) scale(1.38 1)" text-anchor="middle" style="font-family:'Liberation Mono',monospace;font-weight:bold;font-size:41px;fill:#f8f8f8">1</text>
<text transform="translate(743 781.5) scale(1.38 1)" text-anchor="middle" style="font-family:'Liberation Mono',monospace;font-weight:bold;font-size:41px;fill:#f8f8f8">X</text><text transform="translate(782.5 781.5) scale(1.38 1)" text-anchor="middle" style="font-family:'Liberation Mono',monospace;font-weight:bold;font-size:41px;fill:#f8f8f8">7</text><text transform="translate(822 781.5) scale(1.38 1)" text-anchor="middle" style="font-family:'Liberation Mono',monospace;font-weight:bold;font-size:41px;fill:#f8f8f8">0</text><text transform="translate(861.5 781.5) scale(1.38 1)" text-anchor="middle" style="font-family:'Liberation Mono',monospace;font-weight:bold;font-size:41px;fill:#f8f8f8">0</text>
<text transform="translate(978 781.5) scale(1.38 1)" text-anchor="middle" style="font-family:'Liberation Mono',monospace;font-weight:bold;font-size:41px;fill:#f8f8f8">5</text><text transform="translate(1017 781.5) scale(1.38 1)" text-anchor="middle" style="font-family:'Liberation Mono',monospace;font-weight:bold;font-size:41px;fill:#f8f8f8">m</text>
<rect x="164" y="770" width="8" height="7" fill="#e8e8e8"/>
</g>
</g>
<rect x="164" y="10" width="2.2" height="838" fill="#505050" fill-opacity="0.6"/>
<rect x="164" y="10" width="862.2" height="2.2" fill="#505050" fill-opacity="0.6"/>
</g>
<g id="panel_b">
<defs>
<radialGradient id="bCoreA" cx="0.5" cy="0.5" r="0.5"><stop offset="0.000" stop-color="#b8b8b8" stop-opacity="0.500"/><stop offset="0.071" stop-color="#b8b8b8" stop-opacity="0.492"/><stop offset="0.143" stop-color="#b8b8b8" stop-opacity="0.470"/><stop offset="0.214" stop-color="#b8b8b8" stop-opacity="0.434"/><stop offset="0.286" stop-color="#b8b8b8" stop-opacity="0.389"/><stop offset="0.357" stop-color="#b8b8b8" stop-opacity="0.337"/><stop offset="0.429" stop-color="#b8b8b8" stop-opacity="0.282"/><stop offset="0.500" stop-color="#b8b8b8" stop-opacity="0.228"/><stop offset="0.571" stop-color="#b8b8b8" stop-opacity="0.177"/><stop offset="0.643" stop-color="#b8b8b8" stop-opacity="0.131"/><stop offset="0.714" stop-color="#b8b8b8" stop-opacity="0.092"/><stop offset="0.786" stop-color="#b8b8b8" stop-opacity="0.060"/><stop offset="0.857" stop-color="#b8b8b8" stop-opacity="0.034"/><stop offset="0.929" stop-color="#b8b8b8" stop-opacity="0.014"/><stop offset="1.000" stop-color="#b8b8b8" stop-opacity="0.000"/></radialGradient>
<radialGradient id="bLobe" cx="0.5" cy="0.5" r="0.5"><stop offset="0.000" stop-color="#666666" stop-opacity="0.500"/><stop offset="0.100" stop-color="#666666" stop-opacity="0.486"/><stop offset="0.200" stop-color="#666666" stop-opacity="0.446"/><stop offset="0.300" stop-color="#666666" stop-opacity="0.386"/><stop offset="0.400" stop-color="#666666" stop-opacity="0.314"/><stop offset="0.500" stop-color="#666666" stop-opacity="0.240"/><stop offset="0.600" stop-color="#666666" stop-opacity="0.169"/><stop offset="0.700" stop-color="#666666" stop-opacity="0.109"/><stop offset="0.800" stop-color="#666666" stop-opacity="0.061"/><stop offset="0.900" stop-color="#666666" stop-opacity="0.025"/><stop offset="1.000" stop-color="#666666" stop-opacity="0.000"/></radialGradient>
<linearGradient id="bBg" x1="0" y1="0" x2="1" y2="1"><stop offset="0" stop-color="#434343"/><stop offset="0.5" stop-color="#424242"/><stop offset="1" stop-color="#414141"/></linearGradient>
<filter id="bBlur" x="-30%" y="-30%" width="160%" height="160%"><feGaussianBlur stdDeviation="21"/></filter>
<clipPath id="bClip"><rect x="1112" y="171" width="703" height="662"/></clipPath>
</defs>
<g clip-path="url(#bClip)">
<rect x="1112" y="171" width="703" height="662" fill="url(#bBg)"/>
<ellipse cx="1404" cy="312" rx="105" ry="58" fill="url(#bLobe)" transform="rotate(-14 1404 312)"/>
<ellipse cx="1595" cy="350" rx="58" ry="95" fill="url(#bLobe)" transform="rotate(-38 1595 350)"/>
<ellipse cx="1280" cy="468" rx="50" ry="105" fill="url(#bLobe)" transform="rotate(8 1280 468)"/>
<ellipse cx="1658" cy="542" rx="50" ry="115" fill="url(#bLobe)" transform="rotate(8 1658 542)"/>
<ellipse cx="1340" cy="658" rx="55" ry="105" fill="url(#bLobe)" transform="rotate(-35 1340 658)"/>
<ellipse cx="1524" cy="706" rx="105" ry="58" fill="url(#bLobe)" transform="rotate(-18 1524 706)"/>
<g filter="url(#bBlur)"><polygon points="1492,366 1580,428 1584,553 1454,648 1348,599 1340,455 1407,380" fill="#7f7f7f"/></g>
<ellipse cx="1460" cy="506" rx="170" ry="205" fill="url(#bCoreA)" transform="rotate(14 1460 506)"/>
</g>
<rect x="1112.75" y="171.75" width="701" height="660" fill="none" stroke="#333" stroke-width="1.5"/>
</g>
<g id="panel_c">
<rect x="678.2" y="1030" width="299" height="4.6" fill="#000"/>
<rect x="678.2" y="1031" width="4.4" height="689" fill="#000"/>
<rect x="972.6" y="1031" width="4.6" height="689" fill="#000"/>
<rect x="289.7" y="996" width="7.2" height="766" fill="#000"/>
<rect x="277.6" y="1023.7" width="1415" height="7.2" fill="#000"/>
<rect x="261.5" y="1719.5" width="1431.1" height="7.4" fill="#000"/>
<rect x="1685.4" y="1011.7" width="7.2" height="731.3" fill="#000"/>
<rect x="684.5" y="1036" width="286.5" height="686.6" fill="#c9c9c9"/>
<rect x="382.9" y="1012" width="6.6" height="15.3" fill="#000"/>
<rect x="382.9" y="1723.2" width="6.6" height="19.3" fill="#000"/>
<rect x="475.9" y="996" width="6.6" height="31.3" fill="#000"/>
<rect x="475.9" y="1723.2" width="6.6" height="38.8" fill="#000"/>
<rect x="568.9" y="1012" width="6.6" height="15.3" fill="#000"/>
<rect x="568.9" y="1723.2" width="6.6" height="19.3" fill="#000"/>
<rect x="661.8" y="996" width="6.6" height="31.3" fill="#000"/>
<rect x="661.8" y="1723.2" width="6.6" height="38.8" fill="#000"/>
<rect x="754.8" y="1012" width="6.6" height="15.3" fill="#000"/>
<rect x="754.8" y="1723.2" width="6.6" height="19.3" fill="#000"/>
<rect x="847.7" y="996" width="6.6" height="31.3" fill="#000"/>
<rect x="847.7" y="1723.2" width="6.6" height="38.8" fill="#000"/>
<rect x="940.7" y="1012" width="6.6" height="15.3" fill="#000"/>
<rect x="940.7" y="1723.2" width="6.6" height="19.3" fill="#000"/>
<rect x="1033.6" y="996" width="6.6" height="31.3" fill="#000"/>
<rect x="1033.6" y="1723.2" width="6.6" height="38.8" fill="#000"/>
<rect x="1126.6" y="1012" width="6.6" height="15.3" fill="#000"/>
<rect x="1126.6" y="1723.2" width="6.6" height="19.3" fill="#000"/>
<rect x="1219.5" y="996" width="6.6" height="31.3" fill="#000"/>
<rect x="1219.5" y="1723.2" width="6.6" height="38.8" fill="#000"/>
<rect x="1312.5" y="1012" width="6.6" height="15.3" fill="#000"/>
<rect x="1312.5" y="1723.2" width="6.6" height="19.3" fill="#000"/>
<rect x="1405.4" y="996" width="6.6" height="31.3" fill="#000"/>
<rect x="1405.4" y="1723.2" width="6.6" height="38.8" fill="#000"/>
<rect x="1498.4" y="1012" width="6.6" height="15.3" fill="#000"/>
<rect x="1498.4" y="1723.2" width="6.6" height="19.3" fill="#000"/>
<rect x="1591.3" y="996" width="6.6" height="31.3" fill="#000"/>
<rect x="1591.3" y="1723.2" width="6.6" height="38.8" fill="#000"/>
<rect x="277.6" y="1665.9" width="15.7" height="6.6" fill="#000"/>
<rect x="261.5" y="1612.5" width="31.8" height="6.6" fill="#000"/>
<rect x="277.6" y="1559.2" width="15.7" height="6.6" fill="#000"/>
<rect x="261.5" y="1505.8" width="31.8" height="6.6" fill="#000"/>
<rect x="277.6" y="1452.4" width="15.7" height="6.6" fill="#000"/>
<rect x="261.5" y="1399" width="31.8" height="6.6" fill="#000"/>
<rect x="277.6" y="1345.7" width="15.7" height="6.6" fill="#000"/>
<rect x="261.5" y="1292.3" width="31.8" height="6.6" fill="#000"/>
<rect x="277.6" y="1238.9" width="15.7" height="6.6" fill="#000"/>
<rect x="261.5" y="1185.5" width="31.8" height="6.6" fill="#000"/>
<rect x="277.6" y="1132.2" width="15.7" height="6.6" fill="#000"/>
<rect x="261.5" y="1078.8" width="31.8" height="6.6" fill="#000"/>
<polyline points="297,1396 302.2,1395 304.3,1384.9 309.3,1376.8 314.4,1369.7 320.4,1368.7 326.5,1362.7 331.5,1356.6 334.6,1346.5 339.6,1340.4 339.6,1311 344.5,1307 344.5,1242 347.7,1238 347.7,1209.8 351.8,1205.8 351.8,1114.8 354.8,1112.8 354.8,1068.5 358,1068.5 360.9,1072 363.9,1083.5 363.9,1131 367.3,1135 367.3,1238 371,1242 371,1304.8 375,1308.9 376,1331 379,1334 379,1425 385,1415 387,1441.5 393,1429 395,1472 401,1472 404,1440 407.3,1399 411.4,1403 411.4,1437.5 419.5,1437.5 422.5,1430 422.5,1447.5 429.6,1455.6 429.6,1473.8 434.6,1470 435.6,1445.5 441.7,1441.5 445.8,1439.5 451.8,1445.5 459.9,1447.5 461.9,1457.7 465,1439.5 467,1449.6 480,1447.5 485,1443.5 489,1461.7 494.3,1451.6 500.3,1443.5 502.4,1457.7 508.4,1464.7 514.5,1457.7 514.5,1443.5 522.6,1439.5 530.7,1441.5 531.7,1457.7 536.7,1439.5 542.8,1445.5 546.8,1429.4 553,1435.4 560.5,1429 560.5,1408 569.3,1408 571.3,1450.7 576.4,1414.3 584.5,1438.5 592.6,1438.5 594.6,1414.3 606.7,1426.4 609.7,1438.5 615.8,1438.5 618.8,1432.5 623.9,1432.5 626.9,1422.4 631,1426.4 637,1428.4 640,1440.5 649.2,1441.6 651.2,1422.4 655.2,1418.3 655.2,1394 659.3,1390 659.3,1347.6 662.3,1343.5 662.3,1260.6 666.3,1256.6 666.3,1232.3 669.4,1221.2 671.4,1256.6 674.4,1258.6 674.4,1359.7 677,1361.7 677,1440.5" fill="none" stroke="#000" stroke-width="6" stroke-linejoin="miter"/>
<rect x="355" y="1068" width="9.5" height="45" fill="#000"/>
<rect x="373" y="1331" width="9" height="57" fill="#000"/>
<rect x="392" y="1432" width="17" height="42" fill="#000"/>
<rect x="404" y="1399" width="10" height="41" fill="#000"/>
<polygon points="570,1412 586,1428 586,1440 575,1440 570,1452" fill="#000"/>
<polygon points="593,1414 609,1428 609,1440 593,1440" fill="#000"/>
<rect x="671" y="1257" width="9" height="105" fill="#000"/>
<polyline points="976,1637.5 982.4,1645.5 986.5,1655.6 992.6,1665.8 997.6,1659.7 1000.6,1646.6 1004.7,1653.6 1010.8,1657.7 1020.9,1665.8 1025.9,1655.6 1034,1651.6 1043,1655.6 1053.2,1663.7 1061.3,1669.8 1067.3,1671.8 1069.4,1684 1083.5,1684 1089.6,1695 1097.7,1691 1105.8,1696 1113.8,1706.2 1119.9,1706.2 1128,1696 1142,1699 1150.2,1704.2 1158.3,1697 1168.4,1694 1178.5,1690 1184.6,1680 1194.7,1673.8 1203.8,1667.8 1207.8,1680 1219,1673.8 1228,1672 1228.5,1662 1236.2,1660.1 1237.2,1670.2 1244.3,1677.3 1250.3,1672.2 1257.4,1676.3 1268.5,1664.2 1268.5,1658 1279.6,1648 1280.6,1656 1287.7,1661 1290.7,1652 1296.8,1645 1305.9,1649 1306.9,1635.9 1313,1631.8 1323,1641 1333.2,1637.9 1338.2,1627.8 1343.3,1641 1353.4,1631.8 1354.4,1619.7 1360.5,1616.7 1366.5,1623.7 1368.6,1640 1373.6,1652 1379.7,1648 1387.8,1653 1390.8,1664.2 1393.8,1676.3 1399.9,1676.3 1401.9,1658 1410,1649 1410,1631.8 1414,1625.8 1414,1615.7 1421,1603.5 1421,1589.4 1428.2,1589.4 1433.3,1599.5 1434.3,1615.7 1439.3,1617.7 1444.4,1609.6 1445.4,1591.4 1449.4,1589.4 1456.5,1601.5 1459.5,1609.6 1478.7,1609.6 1480.8,1591.4 1490.9,1579.3 1492.8,1573 1498.4,1566 1509,1565.5 1510,1561 1513,1564.8 1519,1570.9 1525,1564.8 1526,1556.7 1533.2,1558.7 1539.3,1552.7 1539.3,1544.6 1547.4,1542.6 1549.4,1536.5 1551.4,1522.4 1557.5,1514.3 1561.5,1522.4 1569.6,1506.2 1579.7,1510.2 1579.7,1498 1585.8,1490 1589,1484 1589,1466 1597.9,1461.7 1602,1455.7 1603,1421.3 1608,1417.2 1612,1445.5 1613,1395 1618,1387 1620,1401 1625,1403 1625,1450.6 1628.2,1327" fill="none" stroke="#000" stroke-width="6" stroke-linejoin="miter"/>
<rect x="1600" y="1419" width="16" height="28" fill="#000"/>
<rect x="1630.4" y="1031" width="22.4" height="425" fill="#000"/>
<rect x="1626.8" y="1327" width="4.2" height="75" fill="#000"/>
<rect x="1635" y="1455" width="6" height="12" fill="#000"/>
<rect x="1641" y="1455" width="4.5" height="7" fill="#000"/>
<rect x="1630.4" y="1416" width="4.6" height="50" fill="#fff"/>
<rect x="1652.6" y="1310.6" width="6.4" height="90" fill="#000"/>
<rect x="1658.6" y="1031" width="5.8" height="459.5" fill="#000"/>
<rect x="1670.6" y="1031" width="6.4" height="689" fill="#000"/>
<rect x="1676.5" y="1350" width="9.5" height="370" fill="#000"/>
<text x="235.5" y="1735.4" text-anchor="end" style="font-family:'Liberation Sans',sans-serif;font-size:54px;fill:#000;stroke:#000;stroke-width:1.8px;stroke-linejoin:round;letter-spacing:1.7px">0</text>
<text x="235.5" y="1628.6" text-anchor="end" style="font-family:'Liberation Sans',sans-serif;font-size:54px;fill:#000;stroke:#000;stroke-width:1.8px;stroke-linejoin:round;letter-spacing:1.7px">200</text>
<text x="235.5" y="1521.9" text-anchor="end" style="font-family:'Liberation Sans',sans-serif;font-size:54px;fill:#000;stroke:#000;stroke-width:1.8px;stroke-linejoin:round;letter-spacing:1.7px">400</text>
<text x="235.5" y="1415.1" text-anchor="end" style="font-family:'Liberation Sans',sans-serif;font-size:54px;fill:#000;stroke:#000;stroke-width:1.8px;stroke-linejoin:round;letter-spacing:1.7px">600</text>
<text x="235.5" y="1308.4" text-anchor="end" style="font-family:'Liberation Sans',sans-serif;font-size:54px;fill:#000;stroke:#000;stroke-width:1.8px;stroke-linejoin:round;letter-spacing:1.7px">800</text>
<text x="235.5" y="1201.6" text-anchor="end" style="font-family:'Liberation Sans',sans-serif;font-size:54px;fill:#000;stroke:#000;stroke-width:1.8px;stroke-linejoin:round;letter-spacing:1.7px">1000</text>
<text x="235.5" y="1094.9" text-anchor="end" style="font-family:'Liberation Sans',sans-serif;font-size:54px;fill:#000;stroke:#000;stroke-width:1.8px;stroke-linejoin:round;letter-spacing:1.7px">1200</text>
<text x="294.3" y="1825.5" text-anchor="middle" style="font-family:'Liberation Sans',sans-serif;font-size:54px;fill:#000;stroke:#000;stroke-width:1.8px;stroke-linejoin:round;letter-spacing:1.7px">1000</text>
<text x="480.2" y="1825.5" text-anchor="middle" style="font-family:'Liberation Sans',sans-serif;font-size:54px;fill:#000;stroke:#000;stroke-width:1.8px;stroke-linejoin:round;letter-spacing:1.7px">1100</text>
<text x="666.1" y="1825.5" text-anchor="middle" style="font-family:'Liberation Sans',sans-serif;font-size:54px;fill:#000;stroke:#000;stroke-width:1.8px;stroke-linejoin:round;letter-spacing:1.7px">1200</text>
<text x="852" y="1825.5" text-anchor="middle" style="font-family:'Liberation Sans',sans-serif;font-size:54px;fill:#000;stroke:#000;stroke-width:1.8px;stroke-linejoin:round;letter-spacing:1.7px">1300</text>
<text x="1037.9" y="1825.5" text-anchor="middle" style="font-family:'Liberation Sans',sans-serif;font-size:54px;fill:#000;stroke:#000;stroke-width:1.8px;stroke-linejoin:round;letter-spacing:1.7px">1400</text>
<text x="1223.8" y="1825.5" text-anchor="middle" style="font-family:'Liberation Sans',sans-serif;font-size:54px;fill:#000;stroke:#000;stroke-width:1.8px;stroke-linejoin:round;letter-spacing:1.7px">1500</text>
<text x="1409.7" y="1825.5" text-anchor="middle" style="font-family:'Liberation Sans',sans-serif;font-size:54px;fill:#000;stroke:#000;stroke-width:1.8px;stroke-linejoin:round;letter-spacing:1.7px">1600</text>
<text x="1595.6" y="1825.5" text-anchor="middle" style="font-family:'Liberation Sans',sans-serif;font-size:54px;fill:#000;stroke:#000;stroke-width:1.8px;stroke-linejoin:round;letter-spacing:1.7px">1700</text>
<text x="676.5" y="1906.6" textLength="558.5" lengthAdjust="spacing" style="font-family:'Liberation Sans',sans-serif;font-weight:bold;font-size:67px;fill:#000;stroke:#000;stroke-width:1px">Wavelength(nm)</text>
<g transform="translate(101,1658.5) rotate(-90)"><text x="0" y="0" textLength="324" lengthAdjust="spacing" style="font-family:'Liberation Sans',sans-serif;font-size:60px;fill:#000;stroke:#000;stroke-width:1.8px;stroke-linejoin:round">Attenuation</text><text x="362" y="-4.6" style="font-family:'Liberation Sans',sans-serif;font-size:56px;fill:#000;stroke:#000;stroke-width:1.8px;stroke-linejoin:round">(</text><text x="382" y="0" textLength="174" lengthAdjust="spacing" style="font-family:'Liberation Sans',sans-serif;font-size:60px;fill:#000;stroke:#000;stroke-width:1.8px;stroke-linejoin:round">dB·km</text><text x="566" y="-27" textLength="22" lengthAdjust="spacing" style="font-family:'Liberation Sans',sans-serif;font-size:26px;fill:#000;stroke:#000;stroke-width:1.2px;stroke-linejoin:round">-1</text><text x="590" y="-12" style="font-family:'Liberation Sans',sans-serif;font-size:56px;fill:#000;stroke:#000;stroke-width:1.8px;stroke-linejoin:round">)</text></g>
</g>
<g id="panel_d">
<line x1="230" y1="2461" x2="1622" y2="2461" stroke="#000" stroke-width="4.9" stroke-dasharray="19.5 22.2" stroke-dashoffset="0.4"/>
<rect x="225" y="2455" width="12.5" height="12" fill="#fff"/>
<path d="M379.3,2613C384.4,2616.2 400.1,2626.7 410,2632C419.9,2637.3 428.6,2641.3 438.6,2645C448.6,2648.7 460.2,2652 470,2654C479.8,2656 484,2655.7 497.3,2657C510.6,2658.3 531,2661.3 550,2662C569,2662.7 591.4,2662 611.4,2661C631.4,2660 651.3,2658.3 670.3,2656C689.3,2653.7 711,2650.4 725.6,2647.4C740.2,2644.4 749,2641.4 758,2638C767,2634.6 772.8,2631.7 779.5,2627C786.2,2622.3 792.2,2615.5 798,2610C803.8,2604.5 809.3,2600 814.5,2594C819.7,2588 824.2,2581 829,2574C833.8,2567 840.7,2555.7 843,2552" fill="none" stroke="#7d7d7d" stroke-width="3.6" stroke-dasharray="19 22"/>
<path d="M961.6,2172C963,2178.7 966.8,2198.7 970,2212C973.2,2225.3 977.5,2239 981,2252C984.5,2265 987.3,2277.3 991,2290C994.7,2302.7 999.3,2315.3 1003,2328C1006.7,2340.7 1008.1,2352.3 1013,2366C1017.9,2379.7 1028,2397.7 1032.5,2410C1037,2422.3 1036.6,2428.3 1040,2440C1043.4,2451.7 1047.8,2467 1053,2480C1058.2,2493 1066.6,2507.2 1071,2518C1075.4,2528.8 1073.5,2532.7 1079.5,2545C1085.5,2557.3 1098.6,2577.7 1107,2592C1115.4,2606.3 1121.5,2618 1130,2631C1138.5,2644 1149.2,2658.3 1158,2670C1166.8,2681.7 1176.4,2692.2 1183,2701C1189.6,2709.8 1191.1,2715.4 1197.6,2722.6C1204.1,2729.8 1214.1,2736.1 1222,2744C1229.9,2751.9 1237.4,2762.3 1245,2770C1252.6,2777.7 1260.1,2785 1267.6,2790C1275.1,2795 1282,2797.8 1290,2800C1298,2802.2 1307.1,2802.7 1315.4,2803C1323.7,2803.3 1331.1,2803.3 1340,2802C1348.9,2800.7 1361.2,2798.7 1369,2795C1376.8,2791.3 1380.1,2786.5 1386.8,2780C1393.5,2773.5 1401.1,2765.2 1409,2756C1416.9,2746.8 1427.8,2737.2 1434,2725C1440.2,2712.8 1441.5,2696.7 1446,2683C1450.5,2669.3 1456.3,2655.8 1461,2643C1465.7,2630.2 1470.3,2618.3 1474,2606C1477.7,2593.7 1479.7,2581.5 1483,2569C1486.3,2556.5 1490.4,2544.2 1494,2531C1497.6,2517.8 1502.7,2496.8 1504.4,2490" fill="none" stroke="#7d7d7d" stroke-width="3.6" stroke-dasharray="19 22" stroke-dashoffset="-12"/>
<rect x="365.3" y="2599" width="28" height="28" fill="#8e8e8e" stroke="#7a7a7a" stroke-width="1.5"/>
<rect x="424.6" y="2629.3" width="28" height="28" fill="#8e8e8e" stroke="#7a7a7a" stroke-width="1.5"/>
<rect x="483.3" y="2641.4" width="28" height="28" fill="#8e8e8e" stroke="#7a7a7a" stroke-width="1.5"/>
<rect x="597.4" y="2645.7" width="28" height="28" fill="#8e8e8e" stroke="#7a7a7a" stroke-width="1.5"/>
<rect x="656.3" y="2641.5" width="28" height="28" fill="#8e8e8e" stroke="#7a7a7a" stroke-width="1.5"/>
<rect x="711.6" y="2633.4" width="28" height="28" fill="#8e8e8e" stroke="#7a7a7a" stroke-width="1.5"/>
<rect x="947.6" y="2158" width="28" height="28" fill="#8e8e8e" stroke="#7a7a7a" stroke-width="1.5"/>
<rect x="1018.5" y="2382.4" width="28" height="28" fill="#8e8e8e" stroke="#7a7a7a" stroke-width="1.5"/>
<rect x="1065.5" y="2543" width="28" height="28" fill="#8e8e8e" stroke="#7a7a7a" stroke-width="1.5"/>
<rect x="1183.6" y="2708.6" width="28" height="28" fill="#8e8e8e" stroke="#7a7a7a" stroke-width="1.5"/>
<rect x="1253.6" y="2772" width="28" height="28" fill="#8e8e8e" stroke="#7a7a7a" stroke-width="1.5"/>
<rect x="1301.4" y="2775.6" width="28" height="28" fill="#8e8e8e" stroke="#7a7a7a" stroke-width="1.5"/>
<rect x="1372.8" y="2759.5" width="28" height="28" fill="#8e8e8e" stroke="#7a7a7a" stroke-width="1.5"/>
<rect x="1420" y="2716" width="28" height="28" fill="#8e8e8e" stroke="#7a7a7a" stroke-width="1.5"/>
<rect x="1490.4" y="2464.8" width="28" height="28" fill="#8e8e8e" stroke="#7a7a7a" stroke-width="1.5"/>
<polyline points="379.6,2811 385,2790.8 390.4,2763.9 395.8,2737 401.2,2710 407.9,2685.7 416,2664 422.7,2642.6 432.2,2618.3 443,2594 453.7,2575.2 464.5,2553.6 472.6,2537.5 488.8,2518.6 505,2501 519.8,2486.3 540,2476.8 558.8,2468.7 572.3,2464.7 588.5,2464.2 610,2462.3 620.4,2455 634,2448.7 644.7,2442 658,2432.6 671.6,2420.4 678.2,2414 691.7,2397.8 706.5,2370.8 718.7,2343.9 729.5,2317 738.9,2290 747,2263 755,2236 761.8,2209.1 768.5,2182.2 774,2155.2 780.7,2128.2 786,2101.3 791.5,2074.3 796.8,2047.4 800.9,2020.4 803.6,1993.5" fill="none" stroke="#000" stroke-width="6.6" stroke-linejoin="round"/>
<polyline points="964.7,2664.3 991.6,2628 1016,2603.6 1040,2580.7 1067,2561.9 1088.7,2547.5 1113,2541 1123.7,2532 1156,2520 1188.4,2510.5 1210,2509 1237,2498 1263.9,2488.5 1290.6,2480 1317.4,2464 1344.3,2446.2 1371.3,2430 1395.6,2408.5 1414.4,2389.6 1427.9,2368 1441.4,2349.2 1454.9,2330.3 1465.6,2314 1476.4,2292.6 1487.2,2271 1498,2252 1504.7,2242" fill="none" stroke="#000" stroke-width="6.6" stroke-linejoin="round" stroke-linecap="round"/>
<rect x="261.7" y="1987" width="7.6" height="939.7" fill="#000"/>
<rect x="247" y="1987" width="1379.3" height="7.4" fill="#000"/>
<rect x="231" y="2919.2" width="1395.3" height="7.6" fill="#000"/>
<rect x="1618.7" y="1987" width="7.6" height="971.4" fill="#000"/>
<rect x="922.2" y="1990.7" width="7.6" height="1007.3" fill="#000"/>
<rect x="434.8" y="1990.7" width="7.4" height="39" fill="#000"/>
<rect x="434.8" y="2923" width="7.4" height="34.6" fill="#000"/>
<rect x="721.7" y="1990.7" width="7.4" height="39" fill="#000"/>
<rect x="721.7" y="2923" width="7.4" height="34.6" fill="#000"/>
<rect x="1144.9" y="1990.7" width="7.4" height="39" fill="#000"/>
<rect x="1144.9" y="2923" width="7.4" height="34.6" fill="#000"/>
<rect x="1382.3" y="1990.7" width="7.4" height="39" fill="#000"/>
<rect x="1382.3" y="2923" width="7.4" height="34.6" fill="#000"/>
<rect x="289.3" y="1990.7" width="7.4" height="23.3" fill="#000"/>
<rect x="289.3" y="2923" width="7.4" height="19.2" fill="#000"/>
<rect x="580.1" y="1990.7" width="7.4" height="23.3" fill="#000"/>
<rect x="580.1" y="2923" width="7.4" height="19.2" fill="#000"/>
<rect x="867.1" y="1990.7" width="7.4" height="23.3" fill="#000"/>
<rect x="867.1" y="2923" width="7.4" height="19.2" fill="#000"/>
<rect x="1027.8" y="1990.7" width="7.4" height="23.3" fill="#000"/>
<rect x="1027.8" y="2923" width="7.4" height="19.2" fill="#000"/>
<rect x="1263.9" y="1990.7" width="7.4" height="23.3" fill="#000"/>
<rect x="1263.9" y="2923" width="7.4" height="19.2" fill="#000"/>
<rect x="1500.1" y="1990.7" width="7.4" height="23.3" fill="#000"/>
<rect x="1500.1" y="2923" width="7.4" height="19.2" fill="#000"/>
<rect x="246" y="2786.9" width="19.5" height="6.6" fill="#000"/>
<rect x="230" y="2653.7" width="35.5" height="6.8" fill="#000"/>
<rect x="246" y="2520.8" width="19.5" height="6.6" fill="#000"/>
<rect x="230" y="2387.7" width="35.5" height="6.8" fill="#000"/>
<rect x="246" y="2254.7" width="19.5" height="6.6" fill="#000"/>
<rect x="230" y="2121.6" width="35.5" height="6.8" fill="#000"/>
<rect x="1622.5" y="2067.1" width="35.1" height="6.2" fill="#000"/>
<rect x="1622.5" y="2164" width="19.1" height="6" fill="#000"/>
<rect x="1622.5" y="2260.8" width="35.1" height="6.2" fill="#000"/>
<rect x="1622.5" y="2357.8" width="19.1" height="6" fill="#000"/>
<rect x="1622.5" y="2454.5" width="35.1" height="6.2" fill="#000"/>
<rect x="1622.5" y="2551.4" width="19.1" height="6" fill="#000"/>
<rect x="1622.5" y="2648.2" width="35.1" height="6.2" fill="#000"/>
<rect x="1622.5" y="2745.2" width="19.1" height="6" fill="#000"/>
<rect x="1622.5" y="2841.9" width="35.1" height="6.2" fill="#000"/>
<text x="227.5" y="2140" text-anchor="end" style="font-family:'Liberation Sans',sans-serif;font-size:54px;fill:#333;stroke:#333;stroke-width:1.6px;stroke-linejoin:round;letter-spacing:1px">12</text>
<text x="227.5" y="2404" text-anchor="end" style="font-family:'Liberation Sans',sans-serif;font-size:54px;fill:#333;stroke:#333;stroke-width:1.6px;stroke-linejoin:round;letter-spacing:1px">10</text>
<text x="227.5" y="2671.5" text-anchor="end" style="font-family:'Liberation Sans',sans-serif;font-size:54px;fill:#333;stroke:#333;stroke-width:1.6px;stroke-linejoin:round;letter-spacing:1px">8</text>
<text x="227.5" y="2933" text-anchor="end" style="font-family:'Liberation Sans',sans-serif;font-size:54px;fill:#333;stroke:#333;stroke-width:1.6px;stroke-linejoin:round;letter-spacing:1px">6</text>
<text x="441.5" y="3022.5" text-anchor="middle" style="font-family:'Liberation Sans',sans-serif;font-size:54px;fill:#000;stroke:#000;stroke-width:1.8px;stroke-linejoin:round;letter-spacing:2.8px">1025</text>
<text x="731.5" y="3022.5" text-anchor="middle" style="font-family:'Liberation Sans',sans-serif;font-size:54px;fill:#000;stroke:#000;stroke-width:1.8px;stroke-linejoin:round;letter-spacing:2.8px">1050</text>
<text x="1148.5" y="3022.5" text-anchor="middle" style="font-family:'Liberation Sans',sans-serif;font-size:54px;fill:#000;stroke:#000;stroke-width:1.8px;stroke-linejoin:round;letter-spacing:2.8px">1400</text>
<text x="1386.5" y="3022.5" text-anchor="middle" style="font-family:'Liberation Sans',sans-serif;font-size:54px;fill:#000;stroke:#000;stroke-width:1.8px;stroke-linejoin:round;letter-spacing:2.8px">1600</text>
<text x="1621.5" y="3022.5" text-anchor="middle" style="font-family:'Liberation Sans',sans-serif;font-size:54px;fill:#000;stroke:#000;stroke-width:1.8px;stroke-linejoin:round;letter-spacing:2.8px">1800</text>
<text x="1676.5" y="2085" style="font-family:'Liberation Sans',sans-serif;font-size:54px;fill:#000;stroke:#000;stroke-width:1.8px;stroke-linejoin:round;letter-spacing:2.8px">500</text>
<text x="1676" y="2277.7" style="font-family:'Liberation Sans',sans-serif;font-size:54px;fill:#000;stroke:#000;stroke-width:1.8px;stroke-linejoin:round;letter-spacing:2.8px">250</text>
<text x="1676" y="2470" style="font-family:'Liberation Sans',sans-serif;font-size:54px;fill:#000;stroke:#000;stroke-width:1.8px;stroke-linejoin:round;letter-spacing:2.8px">0</text>
<text x="1680.4" y="2663.8" style="font-family:'Liberation Sans',sans-serif;font-size:54px;fill:#000;stroke:#000;stroke-width:1.8px;stroke-linejoin:round;letter-spacing:2.8px">-</text>
<text x="1695.4" y="2663.8" style="font-family:'Liberation Sans',sans-serif;font-size:54px;fill:#000;stroke:#000;stroke-width:1.8px;stroke-linejoin:round;letter-spacing:2.8px">250</text>
<text x="1680" y="2856" style="font-family:'Liberation Sans',sans-serif;font-size:54px;fill:#000;stroke:#000;stroke-width:1.8px;stroke-linejoin:round;letter-spacing:2.8px">-</text>
<text x="1695" y="2856" style="font-family:'Liberation Sans',sans-serif;font-size:54px;fill:#000;stroke:#000;stroke-width:1.8px;stroke-linejoin:round;letter-spacing:2.8px">500</text>
<text x="699" y="3128.8" textLength="573" lengthAdjust="spacing" style="font-family:'Liberation Sans',sans-serif;font-weight:bold;font-size:66px;fill:#000;stroke:#000;stroke-width:1px">Wavelength (nm)</text>
<g transform="translate(135.6,2706.5) rotate(-90)"><text x="0" y="0" textLength="468" lengthAdjust="spacing" style="font-family:'Liberation Sans',sans-serif;font-size:60px;fill:#3c3c3c;stroke:#3c3c3c;stroke-width:1.2px;stroke-linejoin:round">Group Delay (ps)</text></g>
<g transform="translate(1859.5,2711.5) rotate(-90)"><text x="0" y="0" textLength="122" lengthAdjust="spacing" style="font-family:'Liberation Sans',sans-serif;font-size:58px;fill:#000;stroke:#000;stroke-width:1.8px;stroke-linejoin:round">GVD</text><text x="158" y="0" textLength="187" lengthAdjust="spacing" style="font-family:'Liberation Sans',sans-serif;font-size:58px;fill:#000;stroke:#000;stroke-width:1.8px;stroke-linejoin:round">(ps·nm</text><text x="352.6" y="-28" textLength="25" lengthAdjust="spacing" style="font-family:'Liberation Sans',sans-serif;font-size:58px;fill:#000;stroke:#000;stroke-width:1.8px;stroke-linejoin:round;font-size:30px;stroke-width:1.2px">-1</text><text x="386" y="0" textLength="93" lengthAdjust="spacing" style="font-family:'Liberation Sans',sans-serif;font-size:58px;fill:#000;stroke:#000;stroke-width:1.8px;stroke-linejoin:round">·km</text><text x="493" y="-28" textLength="25" lengthAdjust="spacing" style="font-family:'Liberation Sans',sans-serif;font-size:58px;fill:#000;stroke:#000;stroke-width:1.8px;stroke-linejoin:round;font-size:30px;stroke-width:1.2px">-1</text><text x="519" y="-8" style="font-family:'Liberation Sans',sans-serif;font-size:58px;fill:#000;stroke:#000;stroke-width:1.8px;stroke-linejoin:round">)</text></g>
</g>
<g id="labels">
<text x="42.8" y="67.2" style="font-family:'Liberation Sans',sans-serif;font-size:76px;fill:#000">(a)</text>
<text x="1103.4" y="131.7" style="font-family:'Liberation Sans',sans-serif;font-size:76px;fill:#000">(b)</text>
<text x="0.8" y="1014.2" style="font-family:'Liberation Sans',sans-serif;font-size:76px;fill:#000">(c)</text>
<text x="67.4" y="2028.3" style="font-family:'Liberation Sans',sans-serif;font-size:76px;fill:#000">(d)</text>
</g>
</svg></body></html>
